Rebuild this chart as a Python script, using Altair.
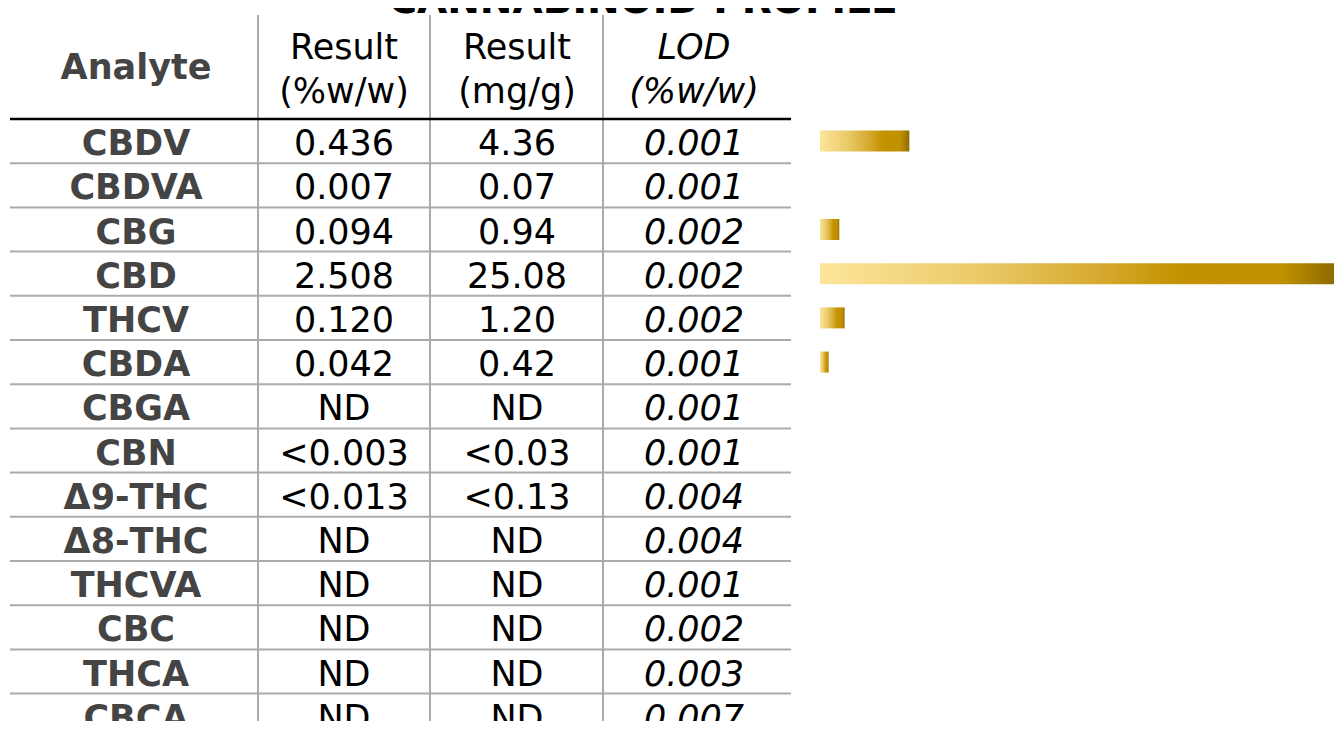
import altair as alt
import pandas as pd

# ---- data ----
title_text = "CANNABINOID PROFILE"
analytes = ["CBDV", "CBDVA", "CBG", "CBD", "THCV", "CBDA", "CBGA", "CBN",
            "Δ9-THC", "Δ8-THC", "THCVA", "CBC", "THCA", "CBCA"]
result_pct = ["0.436", "0.007", "0.094", "2.508", "0.120", "0.042", "ND",
              "<0.003", "<0.013", "ND", "ND", "ND", "ND", "ND"]
result_mg = ["4.36", "0.07", "0.94", "25.08", "1.20", "0.42", "ND",
             "<0.03", "<0.13", "ND", "ND", "ND", "ND", "ND"]
lod = ["0.001", "0.001", "0.002", "0.002", "0.002", "0.001", "0.001",
       "0.001", "0.004", "0.004", "0.001", "0.002", "0.003", "0.007"]
bar_values = [0.436, 0.007, 0.094, 2.508, 0.120, 0.042, 0, 0, 0, 0, 0, 0, 0, 0]
header_analyte = "Analyte"
header_col1 = ["Result", "(%w/w)"]
header_col2 = ["Result", "(mg/g)"]
header_col3 = ["LOD", "(%w/w)"]

df = pd.DataFrame({
    "analyte": analytes,
    "pct": result_pct,
    "mg": result_mg,
    "lod": lod,
    "val": bar_values,
    "idx": list(range(len(analytes))),
})

FONT = "DejaVu Sans"
FS = 35
GRID = "#ABABAB"
W, H = 1326, 713

y_scale = alt.Scale(domain=analytes, range=[111, 729.8], paddingInner=0, paddingOuter=0)


def yenc(band=None):
    if band is None:
        return alt.Y("analyte:N", sort=analytes, scale=y_scale, axis=None)
    return alt.Y("analyte:N", sort=analytes, scale=y_scale, axis=None, bandPosition=band)


base = alt.Chart(df)
one = alt.Chart(pd.DataFrame({"k": [0]}))

layers = []

# title (mostly cut off at the top, as in the reference)
layers.append(one.mark_text(font=FONT, fontSize=39, fontWeight="bold", color="#000000",
                            baseline="alphabetic", align="center", text=title_text)
              .encode(x=alt.value(635), y=alt.value(5)))

# vertical separators
for xv in [250, 422, 595]:
    layers.append(one.mark_rule(color=GRID, strokeWidth=2)
                  .encode(x=alt.value(xv), y=alt.value(7), y2=alt.value(H)))

# row separators
layers.append(base.transform_filter(alt.datum.idx < len(analytes) - 1)
              .mark_rule(color=GRID, strokeWidth=2)
              .encode(y=yenc(1), x=alt.value(2), x2=alt.value(783)))

# header rule
layers.append(base.transform_filter(alt.datum.idx == 0)
              .mark_rule(color="#000000", strokeWidth=2.5)
              .encode(y=yenc(0), x=alt.value(2), x2=alt.value(783)))

# headers
layers.append(one.mark_text(font=FONT, fontSize=FS, fontWeight="bold", color="#444444",
                            baseline="alphabetic", align="center", text=header_analyte)
              .encode(x=alt.value(128), y=alt.value(71)))
for xv, lines, style in [(336, header_col1, "normal"), (509, header_col2, "normal"),
                         (686, header_col3, "italic")]:
    for yv, t in zip([51, 95], lines):
        layers.append(one.mark_text(font=FONT, fontSize=FS, fontStyle=style, color="#000000",
                                    baseline="alphabetic", align="center", text=t)
                      .encode(x=alt.value(xv), y=alt.value(yv)))

# table body
layers.append(base.mark_text(font=FONT, fontSize=FS, fontWeight="bold", color="#444444",
                             baseline="alphabetic", align="center", dy=14)
              .encode(y=yenc(), x=alt.value(128), text="analyte:N"))
layers.append(base.mark_text(font=FONT, fontSize=FS, color="#000000",
                             baseline="alphabetic", align="center", dy=14)
              .encode(y=yenc(), x=alt.value(336), text="pct:N"))
layers.append(base.mark_text(font=FONT, fontSize=FS, color="#000000",
                             baseline="alphabetic", align="center", dy=14)
              .encode(y=yenc(), x=alt.value(509), text="mg:N"))
layers.append(base.mark_text(font=FONT, fontSize=FS, fontStyle="italic", color="#000000",
                             baseline="alphabetic", align="center", dy=14)
              .encode(y=yenc(), x=alt.value(686), text="lod:N"))

# gradient bars
gold = alt.LinearGradient(
    gradient="linear", x1=0, x2=1, y1=0, y2=0,
    stops=[
        alt.GradientStop(color="#FDE59B", offset=0),
        alt.GradientStop(color="#EBCB6A", offset=0.3),
        alt.GradientStop(color="#D6A92E", offset=0.55),
        alt.GradientStop(color="#C29200", offset=0.7),
        alt.GradientStop(color="#C09000", offset=0.9),
        alt.GradientStop(color="#8C6B00", offset=1),
    ],
)
layers.append(base.transform_filter(alt.datum.val > 0.01)
              .mark_bar(color=gold, height=21)
              .encode(y=yenc(),
                      x=alt.X("val:Q", scale=alt.Scale(domain=[0, 2.508], range=[812, W],
                                                       nice=False, zero=True), axis=None)))

chart = alt.layer(*layers).properties(
    width=W, height=H,
    autosize=alt.AutoSizeParams(type="none"),
    padding=0,
).configure_view(stroke=None)

chart.save("out.html", embed_options={"renderer": "svg", "actions": False})
